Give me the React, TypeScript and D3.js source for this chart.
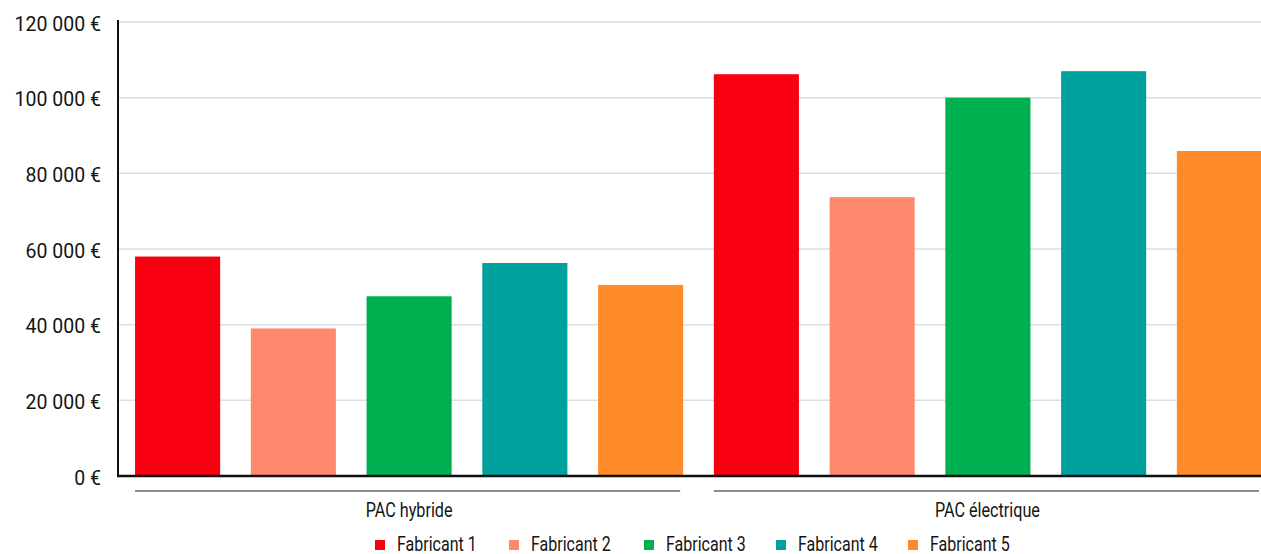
import React from "react";
import * as d3 from "d3";

const categories = ["PAC hybride", "PAC électrique"];
const manufacturers = ["Fabricant 1", "Fabricant 2", "Fabricant 3", "Fabricant 4", "Fabricant 5"];
const hybrideValues = [58000, 39000, 47500, 56300, 50500];
const electriqueValues = [106200, 73700, 100000, 107000, 85900];
const colors = ["#f8000f", "#ff896e", "#00af4f", "#00a09d", "#ff8a2a"];
const yTicks = [0, 20000, 40000, 60000, 80000, 100000, 120000];

const W = 1261;
const H = 554;
const FONT = "Roboto, 'Noto Sans', sans-serif";

// Narrow text: draws real text horizontally compressed by sx
function NarrowText({
  x,
  y,
  sx,
  size,
  anchor = "start",
  children,
}: {
  x: number;
  y: number;
  sx: number;
  size: number;
  anchor?: "start" | "middle" | "end";
  children: React.ReactNode;
}) {
  return (
    <text
      transform={`translate(${x},${y}) scale(${sx},1)`}
      textAnchor={anchor}
      fontSize={size}
      fill="#141414"
    >
      {children}
    </text>
  );
}

export default function App() {
  const left = 118;
  const top = 22;
  const bottom = 476;

  const series = [hybrideValues, electriqueValues];
  const bars = series.flatMap((vals, ci) =>
    vals.map((v, mi) => ({ key: `${ci}-${mi}`, cat: ci, man: mi, value: v }))
  );

  const x = d3
    .scaleBand<string>()
    .domain(bars.map((b) => b.key))
    .range([left + 2, 1277])
    .paddingInner(0.265)
    .paddingOuter(0.13);

  const y = d3.scaleLinear().domain([0, 120000]).range([bottom, top]);

  const fmt = (v: number) => d3.format(",")(v).replace(/,/g, " ") + " €";

  const groupExtent = (ci: number) => {
    const keys = bars.filter((b) => b.cat === ci).map((b) => b.key);
    const x0 = x(keys[0])!;
    const x1 = x(keys[keys.length - 1])! + x.bandwidth();
    return [x0, x1];
  };

  const legendX = [375, 509, 644, 776, 908];

  return (
    <svg
      width={W}
      height={H}
      style={{ position: "absolute", left: 0, top: 0, background: "#fff" }}
      fontFamily={FONT}
    >
      {yTicks.map((t) => (
        <g key={t}>
          {t > 0 && (
            <line x1={left} x2={W} y1={y(t)} y2={y(t)} stroke="#dedede" strokeWidth={1.5} />
          )}
          <NarrowText x={101} y={y(t) + 8.5} sx={0.93} size={21} anchor="end">
            {fmt(t)}
          </NarrowText>
        </g>
      ))}

      {bars.map((b) => (
        <rect
          key={b.key}
          x={x(b.key)}
          y={y(b.value)}
          width={x.bandwidth()}
          height={y(0) - y(b.value)}
          fill={colors[b.man]}
        />
      ))}

      <line x1={left} x2={left} y1={top - 2} y2={bottom + 1} stroke="#111" strokeWidth={2} />
      <line x1={left - 1} x2={W} y1={bottom} y2={bottom} stroke="#111" strokeWidth={2.5} />

      {categories.map((c, ci) => {
        const [x0, x1] = groupExtent(ci);
        return (
          <g key={c}>
            <line x1={x0} x2={Math.min(x1 - 3, W)} y1={491} y2={491} stroke="#666" strokeWidth={1.5} />
            <NarrowText x={(x0 + Math.min(x1, W)) / 2} y={517} sx={0.77} size={21} anchor="middle">
              {c}
            </NarrowText>
          </g>
        );
      })}

      {manufacturers.map((m, i) => (
        <g key={m} transform={`translate(${legendX[i]},545)`}>
          <rect x={0} y={-5} width={10} height={10} fill={colors[i]} />
          <NarrowText x={22} y={5.5} sx={0.8} size={20}>
            {m}
          </NarrowText>
        </g>
      ))}
    </svg>
  );
}
